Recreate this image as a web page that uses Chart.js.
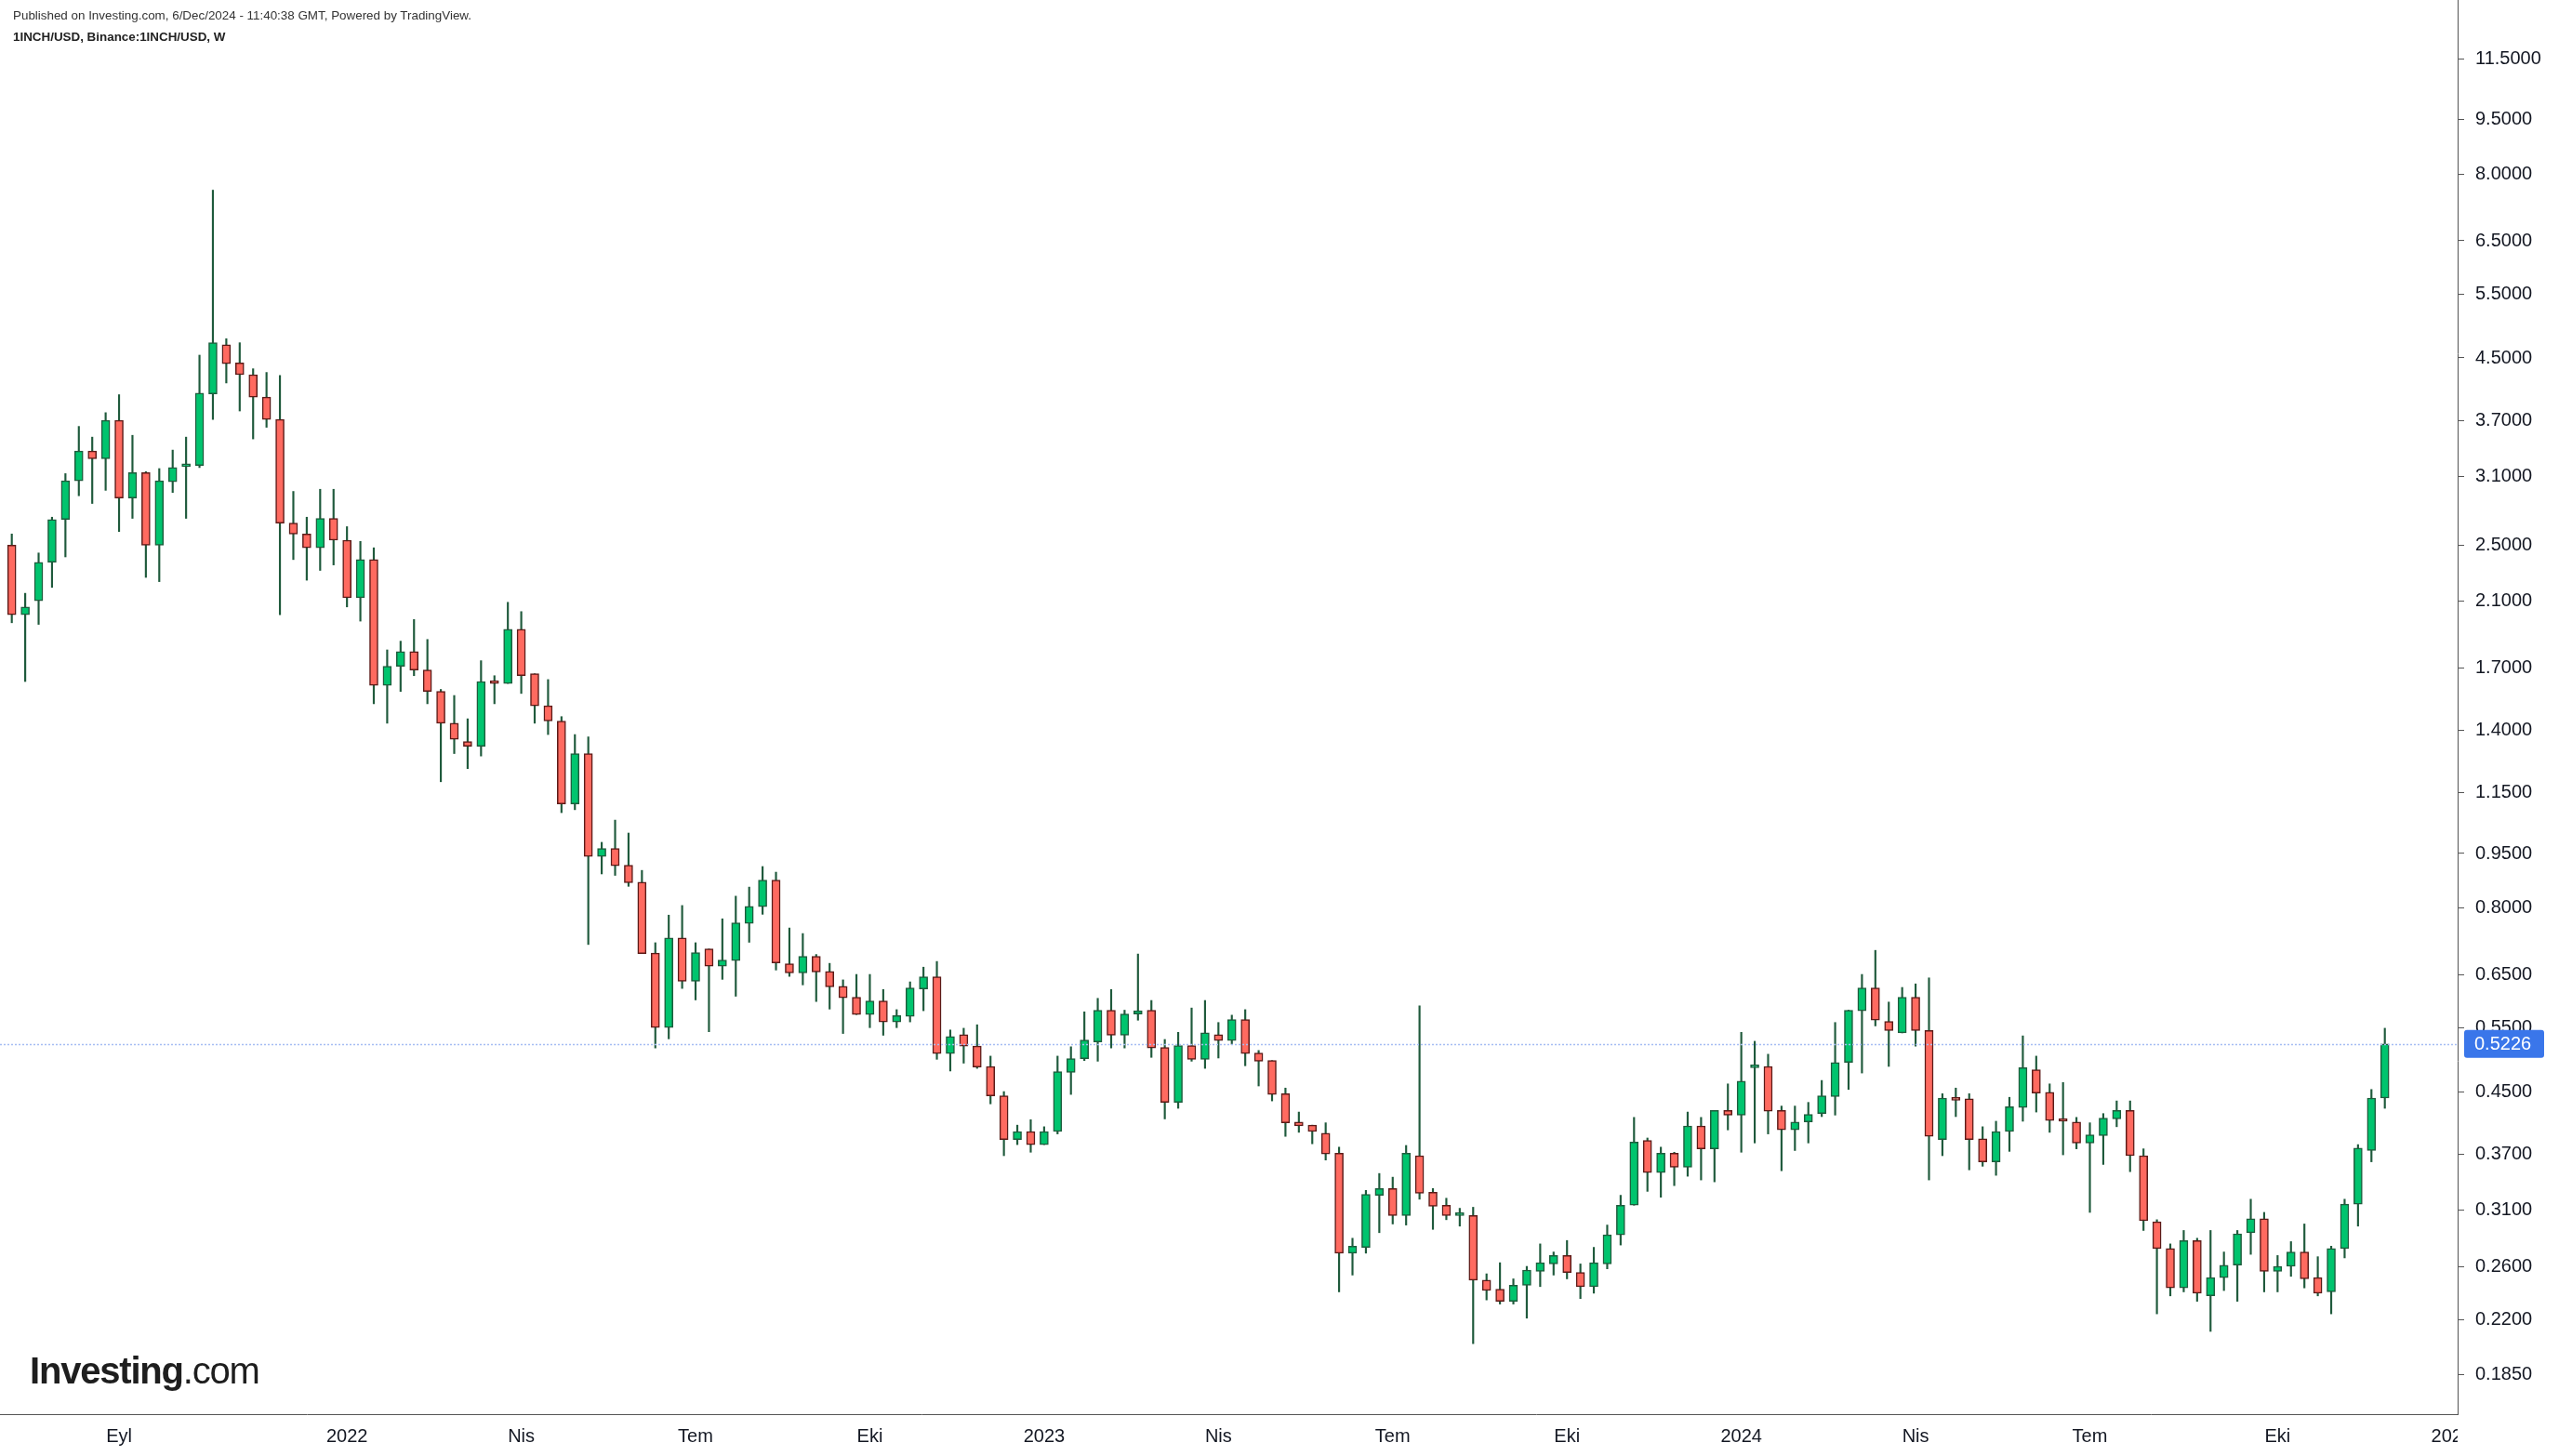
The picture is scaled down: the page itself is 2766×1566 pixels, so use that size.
<!DOCTYPE html>
<html>
<head>
<meta charset="utf-8">
<script src="https://cdn.jsdelivr.net/npm/chart.js@4.4.1/dist/chart.umd.min.js"></script>
<style>
  html, body { margin: 0; padding: 0; background: #fff; }
  #wrap { position: relative; width: 2766px; height: 1566px; }
  #chart { position: absolute; left: 0; top: 0; }
  .pub { position: absolute; left: 14px; top: 9px; font: 13.4px "Liberation Sans", Arial, sans-serif; color: #333; }
  .sym { position: absolute; left: 14px; top: 32px; font: bold 13.4px "Liberation Sans", Arial, sans-serif; color: #222; }
  .logo { position: absolute; left: 32px; top: 1452px; font-family: "Liberation Sans", Arial, sans-serif; font-size: 40px; color: #1e1e1e; letter-spacing: -1.2px; }
  .logo b { font-weight: 700; }
  .logo span { font-weight: 400; }
</style>
</head>
<body>
<div id="wrap">
  <canvas id="chart" width="2766" height="1566"></canvas>
  <div class="pub">Published on Investing.com, 6/Dec/2024 - 11:40:38 GMT, Powered by TradingView.</div>
  <div class="sym">1INCH/USD, Binance:1INCH/USD, W</div>
  <div class="logo"><b>Investing</b><span>.com</span></div>
</div>
<script>
// weekly candles, first bar = week of 12 Jul 2021
const firstWeek = "2021-07-12";

const open = [
  2.50, 2.01, 2.10, 2.37, 2.71, 3.06, 3.36, 3.28, 3.70, 2.90, 3.14, 2.50, 3.05, 3.20, 3.21, 4.02, 4.69, 4.43, 4.27, 3.98,
  3.71, 2.68, 2.59, 2.48, 2.72, 2.54, 2.12, 2.39, 1.61, 1.71, 1.79, 1.69, 1.58, 1.43, 1.35, 1.33, 1.63, 1.62, 1.92, 1.67,
  1.51, 1.44, 1.11, 1.30, 0.941, 0.965, 0.916, 0.868, 0.695, 0.550, 0.729, 0.636, 0.704, 0.667, 0.679, 0.763, 0.804, 0.874, 0.672, 0.653,
  0.688, 0.656, 0.626, 0.605, 0.573, 0.598, 0.560, 0.570, 0.621, 0.645, 0.507, 0.538, 0.519, 0.487, 0.444, 0.387, 0.397, 0.381, 0.397, 0.478,
  0.499, 0.526, 0.581, 0.537, 0.574, 0.581, 0.517, 0.435, 0.520, 0.498, 0.538, 0.528, 0.564, 0.508, 0.496, 0.447, 0.409, 0.405, 0.395, 0.371,
  0.271, 0.276, 0.325, 0.332, 0.305, 0.368, 0.328, 0.315, 0.305, 0.305, 0.249, 0.242, 0.233, 0.245, 0.256, 0.262, 0.269, 0.255, 0.244, 0.262,
  0.287, 0.315, 0.386, 0.349, 0.371, 0.355, 0.404, 0.376, 0.424, 0.418, 0.485, 0.487, 0.424, 0.399, 0.409, 0.420, 0.443, 0.493, 0.580, 0.623,
  0.561, 0.541, 0.605, 0.545, 0.387, 0.441, 0.440, 0.388, 0.361, 0.397, 0.428, 0.482, 0.449, 0.412, 0.409, 0.383, 0.392, 0.413, 0.424, 0.368,
  0.299, 0.275, 0.243, 0.282, 0.237, 0.251, 0.261, 0.289, 0.302, 0.256, 0.260, 0.272, 0.251, 0.240, 0.275, 0.316, 0.374, 0.441
];
const high = [
  2.59, 2.15, 2.44, 2.73, 3.13, 3.63, 3.51, 3.79, 4.01, 3.53, 3.15, 3.18, 3.37, 3.51, 4.54, 7.62, 4.78, 4.72, 4.35, 4.30,
  4.26, 2.96, 2.73, 2.98, 2.98, 2.65, 2.53, 2.48, 1.80, 1.85, 1.98, 1.86, 1.59, 1.56, 1.45, 1.74, 1.66, 2.09, 2.03, 1.67,
  1.64, 1.46, 1.38, 1.37, 0.984, 1.055, 1.013, 0.901, 0.718, 0.783, 0.807, 0.718, 0.704, 0.774, 0.831, 0.855, 0.912, 0.896, 0.752, 0.739,
  0.692, 0.673, 0.639, 0.650, 0.650, 0.620, 0.582, 0.635, 0.665, 0.677, 0.546, 0.549, 0.555, 0.503, 0.450, 0.405, 0.412, 0.403, 0.503, 0.518,
  0.578, 0.603, 0.620, 0.581, 0.693, 0.599, 0.530, 0.542, 0.585, 0.599, 0.559, 0.572, 0.582, 0.512, 0.496, 0.455, 0.422, 0.405, 0.408, 0.378,
  0.284, 0.330, 0.348, 0.344, 0.380, 0.589, 0.332, 0.322, 0.312, 0.313, 0.254, 0.263, 0.250, 0.260, 0.279, 0.272, 0.282, 0.262, 0.276, 0.296,
  0.325, 0.415, 0.389, 0.378, 0.372, 0.422, 0.415, 0.424, 0.461, 0.542, 0.527, 0.506, 0.430, 0.430, 0.435, 0.466, 0.559, 0.581, 0.650, 0.701,
  0.596, 0.624, 0.631, 0.643, 0.447, 0.455, 0.447, 0.403, 0.410, 0.442, 0.536, 0.503, 0.461, 0.463, 0.415, 0.408, 0.420, 0.437, 0.437, 0.376,
  0.301, 0.279, 0.291, 0.284, 0.291, 0.272, 0.291, 0.321, 0.308, 0.269, 0.281, 0.297, 0.268, 0.277, 0.321, 0.381, 0.453, 0.549
];
const low = [
  1.96, 1.63, 1.95, 2.19, 2.41, 2.92, 2.85, 2.97, 2.61, 2.72, 2.26, 2.23, 2.95, 2.72, 3.19, 3.71, 4.16, 3.81, 3.49, 3.62,
  2.01, 2.39, 2.24, 2.31, 2.35, 2.06, 1.97, 1.52, 1.43, 1.58, 1.66, 1.52, 1.19, 1.30, 1.24, 1.29, 1.52, 1.62, 1.57, 1.43,
  1.38, 1.08, 1.09, 0.714, 0.891, 0.887, 0.857, 0.694, 0.516, 0.531, 0.622, 0.600, 0.543, 0.640, 0.607, 0.719, 0.785, 0.659, 0.646, 0.629,
  0.597, 0.583, 0.540, 0.573, 0.550, 0.537, 0.550, 0.560, 0.580, 0.498, 0.480, 0.492, 0.484, 0.433, 0.368, 0.381, 0.372, 0.381, 0.394, 0.446,
  0.496, 0.495, 0.516, 0.516, 0.563, 0.501, 0.413, 0.427, 0.495, 0.484, 0.500, 0.522, 0.488, 0.458, 0.437, 0.391, 0.396, 0.382, 0.363, 0.240,
  0.253, 0.271, 0.289, 0.297, 0.296, 0.321, 0.292, 0.301, 0.295, 0.204, 0.234, 0.231, 0.231, 0.221, 0.244, 0.253, 0.250, 0.235, 0.239, 0.258,
  0.278, 0.315, 0.329, 0.323, 0.335, 0.345, 0.341, 0.339, 0.399, 0.372, 0.383, 0.394, 0.351, 0.374, 0.383, 0.416, 0.418, 0.453, 0.477, 0.553,
  0.487, 0.541, 0.519, 0.341, 0.368, 0.416, 0.352, 0.356, 0.346, 0.373, 0.410, 0.422, 0.396, 0.369, 0.376, 0.308, 0.358, 0.403, 0.350, 0.291,
  0.224, 0.237, 0.240, 0.233, 0.212, 0.241, 0.233, 0.270, 0.240, 0.240, 0.252, 0.243, 0.237, 0.224, 0.267, 0.295, 0.361, 0.427
];
const close = [
  2.01, 2.06, 2.37, 2.71, 3.06, 3.36, 3.28, 3.70, 2.90, 3.14, 2.50, 3.06, 3.19, 3.22, 4.03, 4.72, 4.42, 4.27, 3.98, 3.71,
  2.68, 2.59, 2.48, 2.72, 2.54, 2.12, 2.39, 1.61, 1.71, 1.79, 1.69, 1.58, 1.43, 1.36, 1.33, 1.63, 1.62, 1.92, 1.66, 1.51,
  1.44, 1.11, 1.30, 0.941, 0.965, 0.914, 0.867, 0.694, 0.550, 0.729, 0.636, 0.696, 0.667, 0.680, 0.764, 0.805, 0.874, 0.674, 0.653, 0.688,
  0.655, 0.625, 0.604, 0.573, 0.598, 0.560, 0.571, 0.623, 0.645, 0.507, 0.535, 0.519, 0.486, 0.444, 0.387, 0.397, 0.381, 0.397, 0.479, 0.499,
  0.529, 0.581, 0.537, 0.574, 0.580, 0.516, 0.435, 0.520, 0.498, 0.541, 0.528, 0.564, 0.507, 0.495, 0.446, 0.408, 0.404, 0.397, 0.370, 0.271,
  0.277, 0.326, 0.332, 0.305, 0.371, 0.327, 0.314, 0.305, 0.306, 0.249, 0.241, 0.233, 0.245, 0.257, 0.263, 0.269, 0.255, 0.244, 0.263, 0.287,
  0.315, 0.384, 0.349, 0.371, 0.355, 0.404, 0.376, 0.424, 0.418, 0.465, 0.487, 0.423, 0.399, 0.409, 0.419, 0.444, 0.493, 0.581, 0.623, 0.563,
  0.545, 0.605, 0.545, 0.391, 0.441, 0.438, 0.387, 0.361, 0.397, 0.429, 0.485, 0.448, 0.411, 0.410, 0.383, 0.393, 0.414, 0.424, 0.368, 0.300,
  0.275, 0.243, 0.282, 0.239, 0.251, 0.261, 0.288, 0.302, 0.256, 0.260, 0.272, 0.250, 0.239, 0.275, 0.316, 0.377, 0.441, 0.5226
];

const yTicks = [11.5, 9.5, 8.0, 6.5, 5.5, 4.5, 3.7, 3.1, 2.5, 2.1, 1.7, 1.4, 1.15, 0.95, 0.8, 0.65, 0.55, 0.45, 0.37, 0.31, 0.26, 0.22, 0.185];
const xTickDates = ["2021-09-06", "2022-01-03", "2022-04-04", "2022-07-04", "2022-10-03", "2023-01-02", "2023-04-03",
                    "2023-07-03", "2023-10-02", "2024-01-01", "2024-04-01", "2024-07-01", "2024-10-07", "2025-01-06"];
const xTickLabels = ["Eyl", "2022", "Nis", "Tem", "Eki", "2023", "Nis", "Tem", "Eki", "2024", "Nis", "Tem", "Eki", "2025"];
const lastPrice = 0.5226;

const upFill = '#00c46e', upLine = '#1d5c3c';
const downFill = '#ff6a60', downLine = '#5b1a17';
const wickColor = '#1f5a3c';
const FONT = '"Liberation Sans", Arial, sans-serif';

const weekIdx = d => Math.round((Date.parse(d) - Date.parse(firstWeek)) / (7 * 864e5));
const isUp = i => close[i] >= open[i];

const bodies = open.map((o, i) => ({ x: i, y: [o, close[i]] }));
const wicks = low.map((l, i) => ({ x: i, y: [l, high[i]] }));

const priceLine = {
  id: 'priceLine',
  afterDatasetsDraw(chart) {
    const { ctx, chartArea: a, scales: { y } } = chart;
    const py = Math.round(y.getPixelForValue(lastPrice)) + 0.5;
    ctx.save();
    ctx.strokeStyle = '#a6bdf3';
    ctx.lineWidth = 1.5;
    ctx.setLineDash([2, 2]);
    ctx.beginPath();
    ctx.moveTo(a.left, py);
    ctx.lineTo(a.right, py);
    ctx.stroke();
    ctx.restore();
    // axis panel is opaque: hide x labels that run past the plot
    ctx.save();
    ctx.fillStyle = '#fff';
    ctx.fillRect(a.right, 0, chart.width - a.right, chart.height);
    ctx.restore();
  },
  afterDraw(chart) {
    const { ctx, chartArea: a, scales: { y } } = chart;
    const py = y.getPixelForValue(lastPrice);
    ctx.save();
    ctx.fillStyle = '#3a76ea';
    ctx.beginPath();
    ctx.roundRect(a.right + 7, py - 15, 86, 30, 3);
    ctx.fill();
    ctx.fillStyle = '#fff';
    ctx.font = '20px ' + FONT;
    ctx.textBaseline = 'middle';
    ctx.fillText(lastPrice.toFixed(4), a.right + 18, py + 1);
    ctx.restore();
  }
};

new Chart(document.getElementById('chart'), {
  type: 'bar',
  data: {
    datasets: [
      {
        data: bodies,
        grouped: false,
        order: 0,
        barThickness: 9,
        minBarLength: 3,
        borderWidth: 1.5,
        borderSkipped: false,
        backgroundColor: open.map((o, i) => isUp(i) ? upFill : downFill),
        borderColor: open.map((o, i) => isUp(i) ? upLine : downLine)
      },
      {
        data: wicks,
        grouped: false,
        order: 1,
        barThickness: 1.5,
        borderWidth: 0,
        backgroundColor: wickColor
      }
    ]
  },
  options: {
    responsive: false,
    animation: false,
    layout: { padding: 0 },
    plugins: { legend: { display: false }, tooltip: { enabled: false } },
    scales: {
      x: {
        type: 'linear',
        min: -0.88,
        max: 182.43,
        offset: false,
        grid: { offset: false, drawOnChartArea: false, drawTicks: false, tickLength: 0 },
        border: { display: true, color: '#555', width: 1 },
        ticks: {
          autoSkip: false, maxRotation: 0, padding: 12, color: '#131722',
          font: { size: 20, family: FONT },
          callback: (v, i) => xTickLabels[i]
        },
        afterBuildTicks: s => { s.ticks = xTickDates.map(d => ({ value: weekIdx(d) })); },
        afterFit: s => { s.height = 45; s.paddingLeft = 0; s.paddingRight = 0; }
      },
      y: {
        type: 'logarithmic',
        position: 'right',
        min: 0.1635,
        max: 13.84,
        grid: { z: 1, drawOnChartArea: false, drawTicks: true, tickLength: 7, color: '#555' },
        border: { z: 1, display: true, color: '#555', width: 1 },
        ticks: {
          z: 1, autoSkip: false, padding: 12, color: '#131722',
          font: { size: 20, family: FONT },
          callback: v => Number(v).toFixed(4)
        },
        afterBuildTicks: s => { s.ticks = yTicks.map(v => ({ value: v })); },
        afterFit: s => { s.width = 123; s.paddingTop = 0; s.paddingBottom = 0; }
      }
    }
  },
  plugins: [priceLine]
});
</script>
</body>
</html>
